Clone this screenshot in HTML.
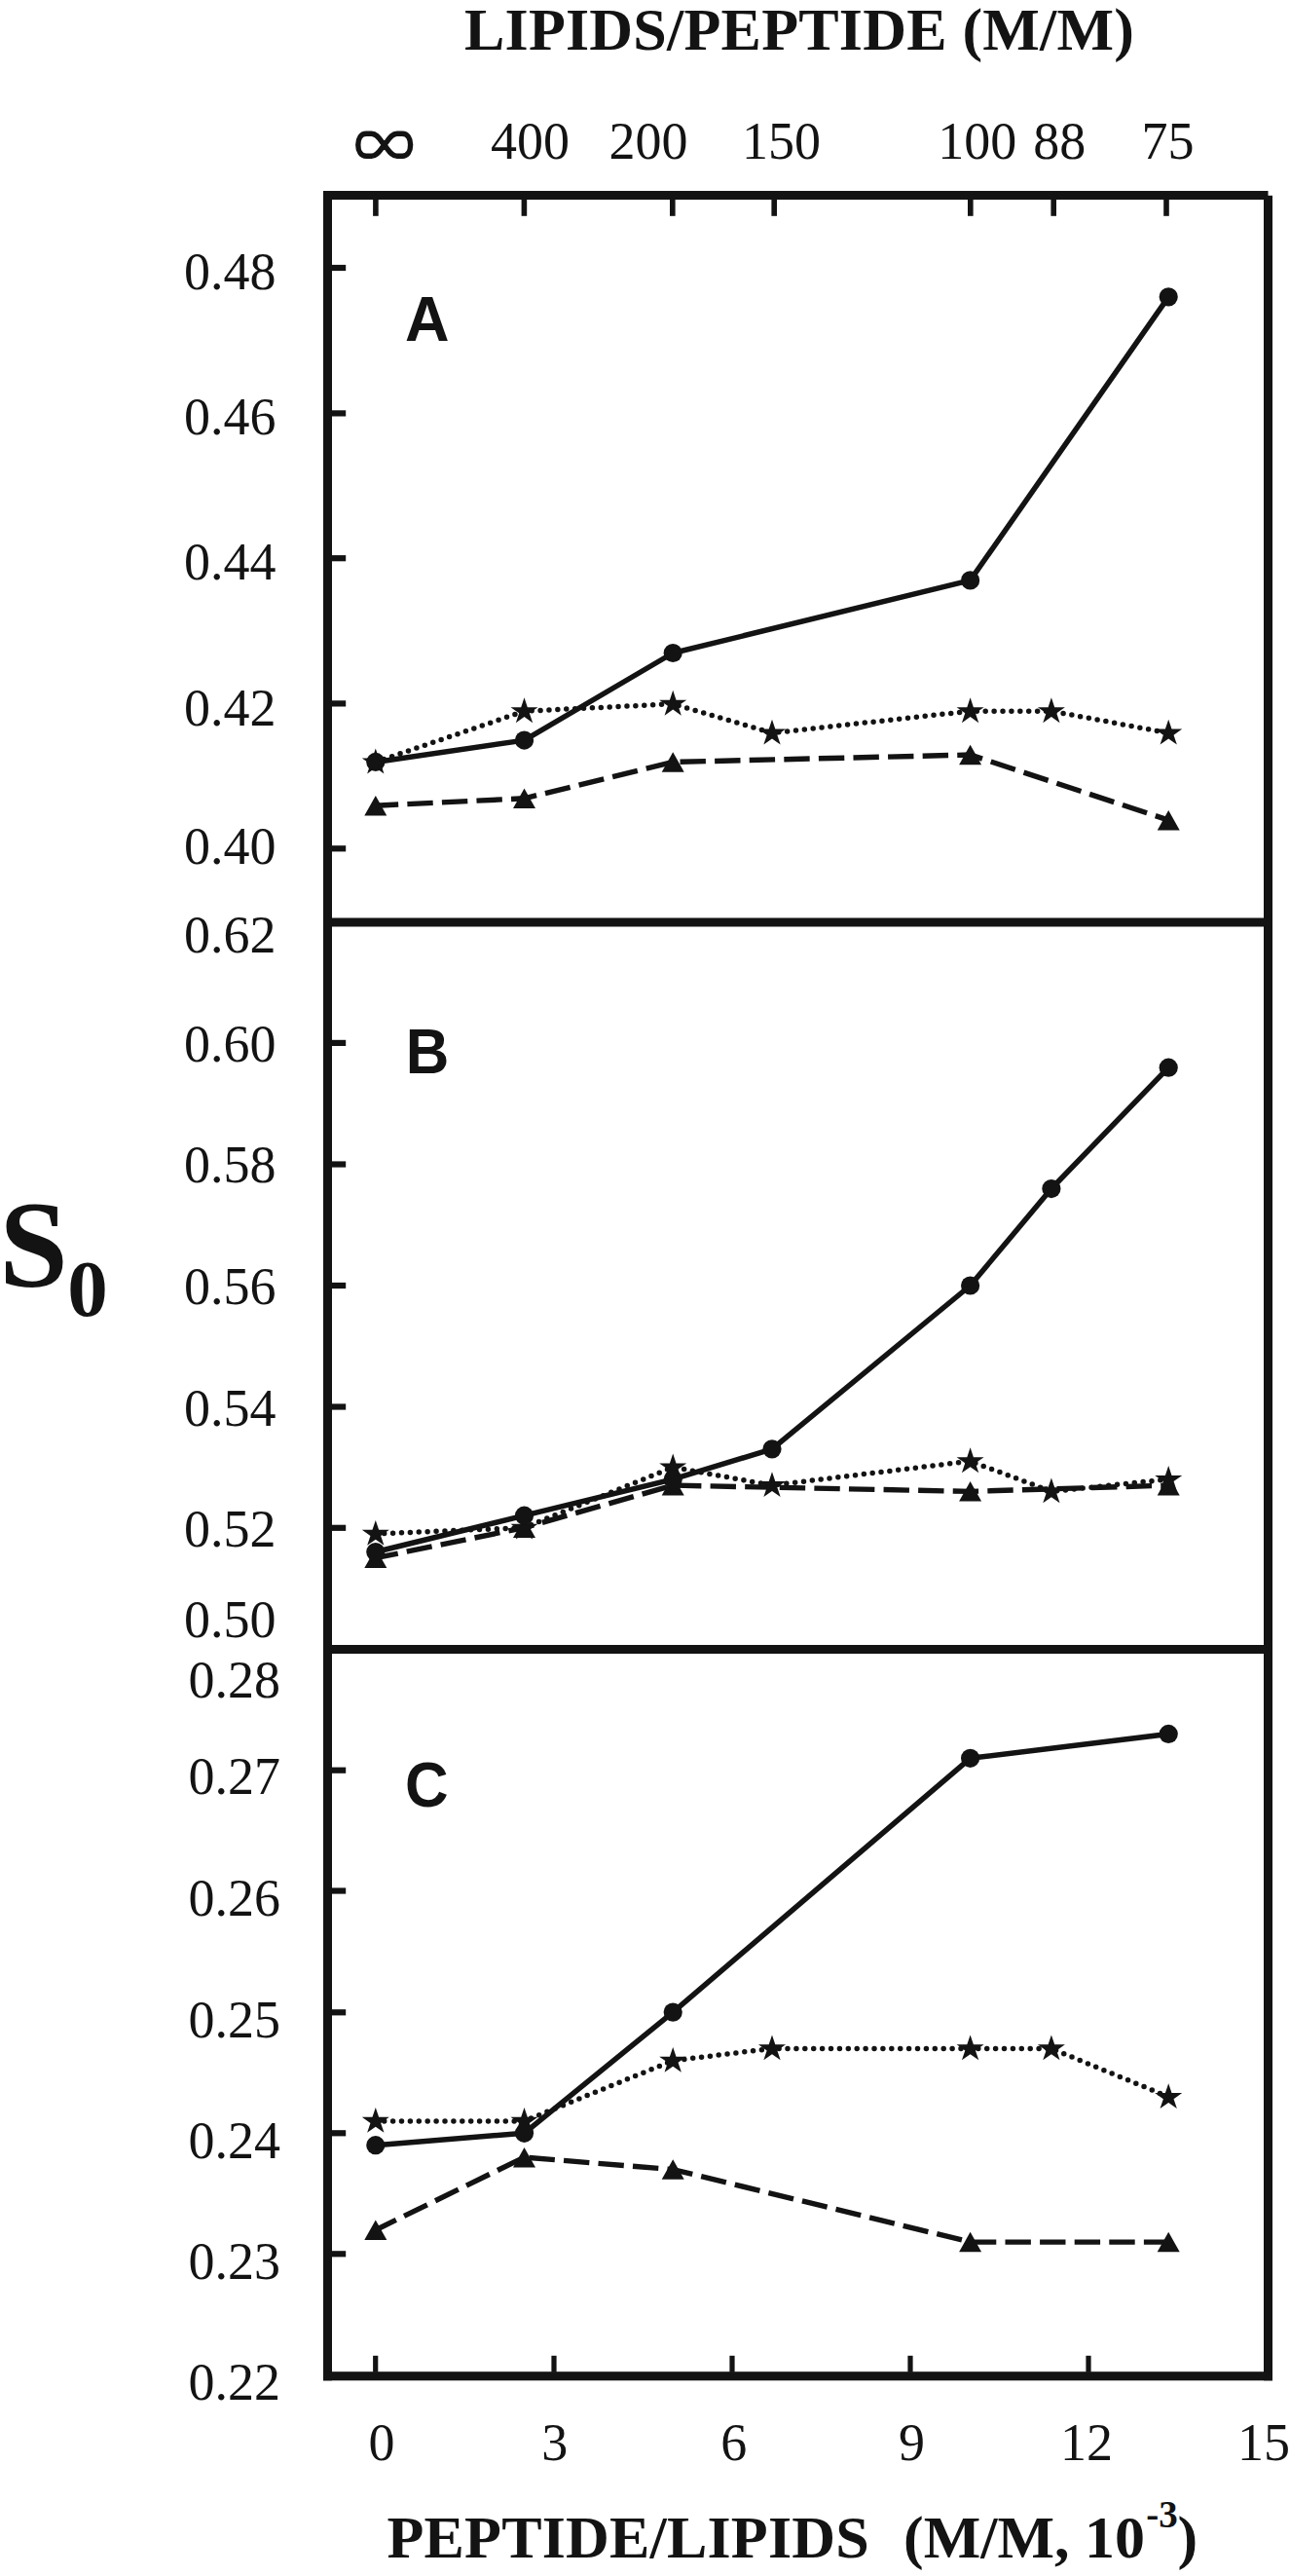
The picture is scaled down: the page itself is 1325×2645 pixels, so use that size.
<!DOCTYPE html>
<html><head><meta charset="utf-8"><title>S0 vs peptide/lipids</title>
<style>html,body{margin:0;padding:0;background:#fff;} svg{display:block;}</style>
</head><body>
<svg width="1325" height="2645" viewBox="0 0 1325 2645">
<rect width="1325" height="2645" fill="#ffffff"/>
<path d="M385.8,827.2 L538.5,819.8 L691.2,782.5 L996.6,775.0 L1200.2,842.1" fill="none" stroke="#131313" stroke-width="5.4" stroke-dasharray="26.4 9.2" stroke-dashoffset="3"/>
<path d="M385.8,782.5 L538.5,730.2 L691.2,722.8 L793.0,752.6 L996.6,730.2 L1079.9,730.2 L1200.2,752.6" fill="none" stroke="#131313" stroke-width="5.5" stroke-dasharray="0 8.9" stroke-linecap="round"/>
<path d="M385.8,782.5 L538.5,760.1 L691.2,670.5 L996.6,595.9 L1200.2,304.9" fill="none" stroke="#131313" stroke-width="5.5" stroke-linejoin="round"/>
<polygon points="385.80,816.97 397.30,837.47 374.30,837.47" fill="#131313"/>
<polygon points="538.50,809.51 550.00,830.01 527.00,830.01" fill="#131313"/>
<polygon points="691.20,772.20 702.70,792.70 679.70,792.70" fill="#131313"/>
<polygon points="996.60,764.74 1008.10,785.24 985.10,785.24" fill="#131313"/>
<polygon points="1200.20,831.90 1211.70,852.40 1188.70,852.40" fill="#131313"/>
<polygon points="385.80,768.55 389.11,778.43 399.81,778.43 391.15,784.54 394.46,794.42 385.80,788.31 377.14,794.42 380.45,784.54 371.79,778.43 382.49,778.43" fill="#131313"/>
<polygon points="538.50,716.31 541.81,726.19 552.51,726.19 543.85,732.30 547.16,742.18 538.50,736.07 529.84,742.18 533.15,732.30 524.49,726.19 535.19,726.19" fill="#131313"/>
<polygon points="691.20,708.85 694.51,718.73 705.21,718.73 696.55,724.84 699.86,734.72 691.20,728.61 682.54,734.72 685.85,724.84 677.19,718.73 687.89,718.73" fill="#131313"/>
<polygon points="793.00,738.70 796.31,748.58 807.01,748.58 798.35,754.69 801.66,764.57 793.00,758.46 784.34,764.57 787.65,754.69 778.99,748.58 789.69,748.58" fill="#131313"/>
<polygon points="996.60,716.31 999.91,726.19 1010.61,726.19 1001.95,732.30 1005.26,742.18 996.60,736.07 987.94,742.18 991.25,732.30 982.59,726.19 993.29,726.19" fill="#131313"/>
<polygon points="1079.89,716.31 1083.20,726.19 1093.90,726.19 1085.24,732.30 1088.55,742.18 1079.89,736.07 1071.23,742.18 1074.54,732.30 1065.88,726.19 1076.58,726.19" fill="#131313"/>
<polygon points="1200.20,738.70 1203.51,748.58 1214.21,748.58 1205.55,754.69 1208.86,764.57 1200.20,758.46 1191.54,764.57 1194.85,754.69 1186.19,748.58 1196.89,748.58" fill="#131313"/>
<circle cx="385.80" cy="782.45" r="9.6" fill="#131313"/>
<circle cx="538.50" cy="760.06" r="9.6" fill="#131313"/>
<circle cx="691.20" cy="670.51" r="9.6" fill="#131313"/>
<circle cx="996.60" cy="595.89" r="9.6" fill="#131313"/>
<circle cx="1200.20" cy="304.85" r="9.6" fill="#131313"/>
<path d="M385.8,1599.7 L538.5,1568.6 L691.2,1525.1 L996.6,1531.4 L1200.2,1525.1" fill="none" stroke="#131313" stroke-width="5.4" stroke-dasharray="26.4 9.2" stroke-dashoffset="3"/>
<path d="M385.8,1574.9 L538.5,1568.6 L691.2,1506.5 L793.0,1525.1 L996.6,1500.3 L1079.9,1531.4 L1200.2,1518.9" fill="none" stroke="#131313" stroke-width="5.5" stroke-dasharray="0 8.9" stroke-linecap="round"/>
<path d="M385.8,1593.5 L538.5,1556.2 L691.2,1518.9 L793.0,1487.8 L996.6,1320.0 L1079.9,1220.5 L1200.2,1096.2" fill="none" stroke="#131313" stroke-width="5.5" stroke-linejoin="round"/>
<polygon points="385.80,1589.48 397.30,1609.98 374.30,1609.98" fill="#131313"/>
<polygon points="538.50,1558.40 550.00,1578.90 527.00,1578.90" fill="#131313"/>
<polygon points="691.20,1514.88 702.70,1535.38 679.70,1535.38" fill="#131313"/>
<polygon points="996.60,1521.10 1008.10,1541.60 985.10,1541.60" fill="#131313"/>
<polygon points="1200.20,1514.88 1211.70,1535.38 1188.70,1535.38" fill="#131313"/>
<polygon points="385.80,1560.97 389.11,1570.85 399.81,1570.85 391.15,1576.95 394.46,1586.84 385.80,1580.73 377.14,1586.84 380.45,1576.95 371.79,1570.85 382.49,1570.85" fill="#131313"/>
<polygon points="538.50,1554.75 541.81,1564.63 552.51,1564.63 543.85,1570.74 547.16,1580.62 538.50,1574.51 529.84,1580.62 533.15,1570.74 524.49,1564.63 535.19,1564.63" fill="#131313"/>
<polygon points="691.20,1492.58 694.51,1502.47 705.21,1502.47 696.55,1508.57 699.86,1518.45 691.20,1512.35 682.54,1518.45 685.85,1508.57 677.19,1502.47 687.89,1502.47" fill="#131313"/>
<polygon points="793.00,1511.23 796.31,1521.12 807.01,1521.12 798.35,1527.22 801.66,1537.10 793.00,1531.00 784.34,1537.10 787.65,1527.22 778.99,1521.12 789.69,1521.12" fill="#131313"/>
<polygon points="996.60,1486.37 999.91,1496.25 1010.61,1496.25 1001.95,1502.36 1005.26,1512.24 996.60,1506.13 987.94,1512.24 991.25,1502.36 982.59,1496.25 993.29,1496.25" fill="#131313"/>
<polygon points="1079.89,1517.45 1083.20,1527.33 1093.90,1527.33 1085.24,1533.44 1088.55,1543.32 1079.89,1537.21 1071.23,1543.32 1074.54,1533.44 1065.88,1527.33 1076.58,1527.33" fill="#131313"/>
<polygon points="1200.20,1505.02 1203.51,1514.90 1214.21,1514.90 1205.55,1521.01 1208.86,1530.89 1200.20,1524.78 1191.54,1530.89 1194.85,1521.01 1186.19,1514.90 1196.89,1514.90" fill="#131313"/>
<circle cx="385.80" cy="1593.52" r="9.6" fill="#131313"/>
<circle cx="538.50" cy="1556.22" r="9.6" fill="#131313"/>
<circle cx="691.20" cy="1518.92" r="9.6" fill="#131313"/>
<circle cx="793.00" cy="1487.84" r="9.6" fill="#131313"/>
<circle cx="996.60" cy="1319.99" r="9.6" fill="#131313"/>
<circle cx="1079.89" cy="1220.53" r="9.6" fill="#131313"/>
<circle cx="1200.20" cy="1096.20" r="9.6" fill="#131313"/>
<path d="M385.8,2289.7 L538.5,2215.1 L691.2,2227.6 L996.6,2302.1 L1200.2,2302.1" fill="none" stroke="#131313" stroke-width="5.4" stroke-dasharray="26.4 9.2" stroke-dashoffset="3"/>
<path d="M385.8,2177.9 L538.5,2177.9 L691.2,2115.8 L793.0,2103.4 L996.6,2103.4 L1079.9,2103.4 L1200.2,2153.0" fill="none" stroke="#131313" stroke-width="5.5" stroke-dasharray="0 8.9" stroke-linecap="round"/>
<path d="M385.8,2202.7 L538.5,2190.3 L691.2,2066.1 L996.6,1805.3 L1200.2,1780.4" fill="none" stroke="#131313" stroke-width="5.5" stroke-linejoin="round"/>
<polygon points="385.80,2279.41 397.30,2299.91 374.30,2299.91" fill="#131313"/>
<polygon points="538.50,2204.89 550.00,2225.39 527.00,2225.39" fill="#131313"/>
<polygon points="691.20,2217.31 702.70,2237.81 679.70,2237.81" fill="#131313"/>
<polygon points="996.60,2291.83 1008.10,2312.33 985.10,2312.33" fill="#131313"/>
<polygon points="1200.20,2291.83 1211.70,2312.33 1188.70,2312.33" fill="#131313"/>
<polygon points="385.80,2163.98 389.11,2173.86 399.81,2173.86 391.15,2179.97 394.46,2189.85 385.80,2183.74 377.14,2189.85 380.45,2179.97 371.79,2173.86 382.49,2173.86" fill="#131313"/>
<polygon points="538.50,2163.98 541.81,2173.86 552.51,2173.86 543.85,2179.97 547.16,2189.85 538.50,2183.74 529.84,2189.85 533.15,2179.97 524.49,2173.86 535.19,2173.86" fill="#131313"/>
<polygon points="691.20,2101.88 694.51,2111.76 705.21,2111.76 696.55,2117.87 699.86,2127.75 691.20,2121.64 682.54,2127.75 685.85,2117.87 677.19,2111.76 687.89,2111.76" fill="#131313"/>
<polygon points="793.00,2089.46 796.31,2099.34 807.01,2099.34 798.35,2105.45 801.66,2115.33 793.00,2109.22 784.34,2115.33 787.65,2105.45 778.99,2099.34 789.69,2099.34" fill="#131313"/>
<polygon points="996.60,2089.46 999.91,2099.34 1010.61,2099.34 1001.95,2105.45 1005.26,2115.33 996.60,2109.22 987.94,2115.33 991.25,2105.45 982.59,2099.34 993.29,2099.34" fill="#131313"/>
<polygon points="1079.89,2089.46 1083.20,2099.34 1093.90,2099.34 1085.24,2105.45 1088.55,2115.33 1079.89,2109.22 1071.23,2115.33 1074.54,2105.45 1065.88,2099.34 1076.58,2099.34" fill="#131313"/>
<polygon points="1200.20,2139.14 1203.51,2149.02 1214.21,2149.02 1205.55,2155.13 1208.86,2165.01 1200.20,2158.90 1191.54,2165.01 1194.85,2155.13 1186.19,2149.02 1196.89,2149.02" fill="#131313"/>
<circle cx="385.80" cy="2202.72" r="9.6" fill="#131313"/>
<circle cx="538.50" cy="2190.30" r="9.6" fill="#131313"/>
<circle cx="691.20" cy="2066.10" r="9.6" fill="#131313"/>
<circle cx="996.60" cy="1805.28" r="9.6" fill="#131313"/>
<circle cx="1200.20" cy="1780.44" r="9.6" fill="#131313"/>
<rect x="332" y="196" width="9" height="2248.3" fill="#131313"/>
<rect x="332" y="196" width="970.5" height="9" fill="#131313"/>
<rect x="1298" y="200.8" width="9" height="2243.5" fill="#131313"/>
<rect x="332" y="2435.2" width="975" height="9.1" fill="#131313"/>
<rect x="332" y="942.5" width="975" height="9" fill="#131313"/>
<rect x="332" y="1689" width="975" height="9" fill="#131313"/>
<rect x="340" y="271.9" width="15.2" height="6.2" fill="#131313"/>
<rect x="340" y="421.3" width="15.2" height="6.2" fill="#131313"/>
<rect x="340" y="570.1" width="15.2" height="6.2" fill="#131313"/>
<rect x="340" y="719.3" width="15.2" height="6.2" fill="#131313"/>
<rect x="340" y="868.2" width="15.2" height="6.2" fill="#131313"/>
<rect x="340" y="1067.8" width="15.2" height="6.2" fill="#131313"/>
<rect x="340" y="1192.4" width="15.2" height="6.2" fill="#131313"/>
<rect x="340" y="1316.9" width="15.2" height="6.2" fill="#131313"/>
<rect x="340" y="1441.4" width="15.2" height="6.2" fill="#131313"/>
<rect x="340" y="1565.7" width="15.2" height="6.2" fill="#131313"/>
<rect x="340" y="1814.6" width="15.2" height="6.2" fill="#131313"/>
<rect x="340" y="1938.4" width="15.2" height="6.2" fill="#131313"/>
<rect x="340" y="2063.2" width="15.2" height="6.2" fill="#131313"/>
<rect x="340" y="2187.2" width="15.2" height="6.2" fill="#131313"/>
<rect x="340" y="2311.2" width="15.2" height="6.2" fill="#131313"/>
<rect x="383.1" y="204" width="5.6" height="17.8" fill="#131313"/>
<rect x="535.6" y="204" width="5.6" height="17.8" fill="#131313"/>
<rect x="688.0" y="204" width="5.6" height="17.8" fill="#131313"/>
<rect x="792.4" y="204" width="5.6" height="17.8" fill="#131313"/>
<rect x="994.0" y="204" width="5.6" height="17.8" fill="#131313"/>
<rect x="1079.4" y="204" width="5.6" height="17.8" fill="#131313"/>
<rect x="1195.2" y="204" width="5.6" height="17.8" fill="#131313"/>
<rect x="383.1" y="2418.8" width="5.2" height="17" fill="#131313"/>
<rect x="566.4" y="2418.8" width="5.2" height="17" fill="#131313"/>
<rect x="749.4" y="2418.8" width="5.2" height="17" fill="#131313"/>
<rect x="932.4" y="2418.8" width="5.2" height="17" fill="#131313"/>
<rect x="1115.4" y="2418.8" width="5.2" height="17" fill="#131313"/>
<text x="189.0" y="296.8" font-family="Liberation Serif" font-size="54" font-weight="normal" fill="#131313" >0.48</text>
<text x="189.0" y="445.9" font-family="Liberation Serif" font-size="54" font-weight="normal" fill="#131313" >0.46</text>
<text x="189.0" y="595.2" font-family="Liberation Serif" font-size="54" font-weight="normal" fill="#131313" >0.44</text>
<text x="189.0" y="744.7" font-family="Liberation Serif" font-size="54" font-weight="normal" fill="#131313" >0.42</text>
<text x="189.0" y="886.6" font-family="Liberation Serif" font-size="54" font-weight="normal" fill="#131313" >0.40</text>
<text x="189.0" y="977.5" font-family="Liberation Serif" font-size="54" font-weight="normal" fill="#131313" >0.62</text>
<text x="189.0" y="1090.2" font-family="Liberation Serif" font-size="54" font-weight="normal" fill="#131313" >0.60</text>
<text x="189.0" y="1214.2" font-family="Liberation Serif" font-size="54" font-weight="normal" fill="#131313" >0.58</text>
<text x="189.0" y="1338.7" font-family="Liberation Serif" font-size="54" font-weight="normal" fill="#131313" >0.56</text>
<text x="189.0" y="1463.6" font-family="Liberation Serif" font-size="54" font-weight="normal" fill="#131313" >0.54</text>
<text x="189.0" y="1587.6" font-family="Liberation Serif" font-size="54" font-weight="normal" fill="#131313" >0.52</text>
<text x="189.0" y="1680.9" font-family="Liberation Serif" font-size="54" font-weight="normal" fill="#131313" >0.50</text>
<text x="193.5" y="1742.9" font-family="Liberation Serif" font-size="54" font-weight="normal" fill="#131313" >0.28</text>
<text x="193.5" y="1842.3" font-family="Liberation Serif" font-size="54" font-weight="normal" fill="#131313" >0.27</text>
<text x="193.5" y="1966.8" font-family="Liberation Serif" font-size="54" font-weight="normal" fill="#131313" >0.26</text>
<text x="193.5" y="2091.6" font-family="Liberation Serif" font-size="54" font-weight="normal" fill="#131313" >0.25</text>
<text x="193.5" y="2215.6" font-family="Liberation Serif" font-size="54" font-weight="normal" fill="#131313" >0.24</text>
<text x="193.5" y="2339.6" font-family="Liberation Serif" font-size="54" font-weight="normal" fill="#131313" >0.23</text>
<text x="193.5" y="2464.2" font-family="Liberation Serif" font-size="54" font-weight="normal" fill="#131313" >0.22</text>
<text x="378.4" y="2526.4" font-family="Liberation Serif" font-size="54" font-weight="normal" fill="#131313" >0</text>
<text x="556.2" y="2526.4" font-family="Liberation Serif" font-size="54" font-weight="normal" fill="#131313" >3</text>
<text x="740.3" y="2526.4" font-family="Liberation Serif" font-size="54" font-weight="normal" fill="#131313" >6</text>
<text x="923.0" y="2526.4" font-family="Liberation Serif" font-size="54" font-weight="normal" fill="#131313" >9</text>
<text x="1089.0" y="2526.4" font-family="Liberation Serif" font-size="54" font-weight="normal" fill="#131313" >12</text>
<text x="1270.9" y="2526.4" font-family="Liberation Serif" font-size="54" font-weight="normal" fill="#131313" >15</text>
<text x="504.0" y="163.3" font-family="Liberation Serif" font-size="54" font-weight="normal" fill="#131313" >400</text>
<text x="625.5" y="163.3" font-family="Liberation Serif" font-size="54" font-weight="normal" fill="#131313" >200</text>
<text x="762.0" y="163.3" font-family="Liberation Serif" font-size="54" font-weight="normal" fill="#131313" >150</text>
<text x="963.2" y="163.3" font-family="Liberation Serif" font-size="54" font-weight="normal" fill="#131313" >100</text>
<text x="1061.2" y="163.3" font-family="Liberation Serif" font-size="54" font-weight="normal" fill="#131313" >88</text>
<text x="1172.4" y="163.3" font-family="Liberation Serif" font-size="54" font-weight="normal" fill="#131313" >75</text>
<path d="M394.7,148.8 C390.2,143.6 387.6,137.3 381.5,137.3 L376.2,137.3 C370.8,137.3 367.8,142.2 367.8,148.8 C367.8,155.4 370.8,160.3 376.2,160.3 L381.5,160.3 C387.6,160.3 390.2,154.0 394.7,148.8 C399.2,143.6 401.8,137.3 407.9,137.3 L413.2,137.3 C418.6,137.3 421.6,142.2 421.6,148.8 C421.6,155.4 418.6,160.3 413.2,160.3 L407.9,160.3 C401.8,160.3 399.2,154.0 394.7,148.8 Z" fill="none" stroke="#131313" stroke-width="5.4" stroke-linejoin="round"/>
<text x="477.0" y="51.2" font-family="Liberation Serif" font-size="62" font-weight="bold" fill="#131313" letter-spacing="0.22">LIPIDS/PEPTIDE (M/M)</text>
<text x="397.5" y="2626.0" font-family="Liberation Serif" font-size="62" font-weight="bold" fill="#131313" letter-spacing="0.19">PEPTIDE/LIPIDS</text>
<text x="928.0" y="2626.0" font-family="Liberation Serif" font-size="62" font-weight="bold" fill="#131313" >(M/M, 10</text>
<text x="1177.2" y="2594.6" font-family="Liberation Serif" font-size="39" font-weight="bold" fill="#131313" >-3</text>
<text x="1209.4" y="2626.0" font-family="Liberation Serif" font-size="62" font-weight="bold" fill="#131313" >)</text>
<text x="0" y="0" font-family="Liberation Sans" font-size="65" font-weight="bold" fill="#131313" transform="translate(416.1,349.5) scale(0.97,1)">A</text>
<text x="0" y="0" font-family="Liberation Sans" font-size="65" font-weight="bold" fill="#131313" transform="translate(416.8,1101.8) scale(0.95,1)">B</text>
<text x="0" y="0" font-family="Liberation Sans" font-size="65" font-weight="bold" fill="#131313" transform="translate(416.0,1854.9) scale(0.95,1)">C</text>
<text x="-0.8" y="1320.9" font-family="Liberation Serif" font-size="127" font-weight="bold" fill="#131313" >S</text>
<text x="69.3" y="1351.2" font-family="Liberation Serif" font-size="83" font-weight="bold" fill="#131313" >0</text>
</svg>
</body></html>
